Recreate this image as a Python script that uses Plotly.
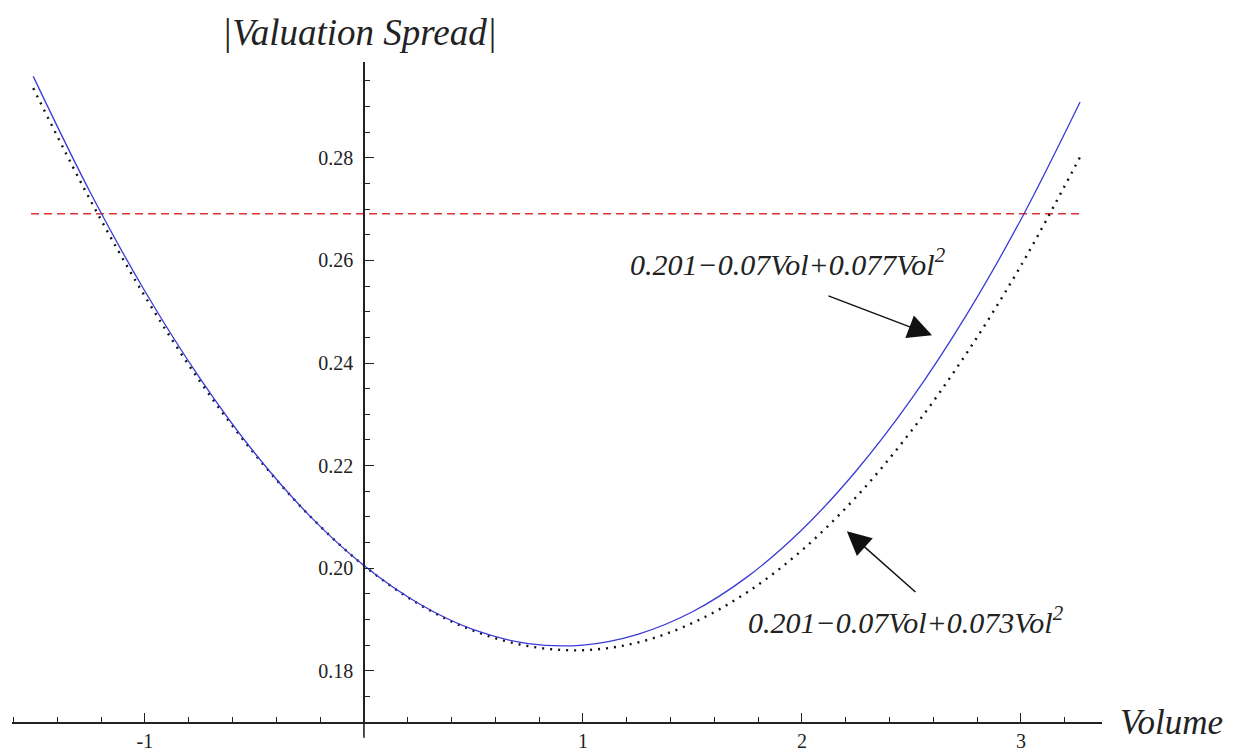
import plotly.graph_objects as go

# Volume values (x)
volume = [-1.51, -1.25, -1.0, -0.75, -0.5, -0.25, 0.0, 0.25, 0.5, 0.75, 1.0,
          1.25, 1.5, 1.75, 2.0, 2.25, 2.5, 2.75, 3.0, 3.27]
# |Valuation Spread| – solid blue curve
spread_blue = [0.2959, 0.2733, 0.2540, 0.2371, 0.2225, 0.2103, 0.2005, 0.1931,
               0.1880, 0.1853, 0.1850, 0.1871, 0.1915, 0.1983, 0.2075, 0.2191,
               0.2330, 0.2493, 0.2680, 0.2909]
# dotted black curve
spread_dot = [0.2936, 0.2718, 0.2530, 0.2365, 0.2223, 0.2103, 0.2005, 0.1930,
              0.1878, 0.1848, 0.1840, 0.1855, 0.1893, 0.1953, 0.2035, 0.2140,
              0.2268, 0.2418, 0.2590, 0.2802]
# red dashed threshold
threshold_x = [-1.52, 3.28]
threshold_y = [0.2691, 0.2691]

x_major = [-1, 1, 2, 3]
x_major_text = ["-1", "1", "2", "3"]
y_major = [0.18, 0.20, 0.22, 0.24, 0.26, 0.28]
y_major_text = ["0.18", "0.20", "0.22", "0.24", "0.26", "0.28"]

label_blue = "<i>0.201\u22120.07Vol+0.077Vol<sup>2</sup></i>"
label_dot = "<i>0.201\u22120.07Vol+0.073Vol<sup>2</sup></i>"

X_RANGE = [-1.607, 3.37]
Y_RANGE = [0.17, 0.2987]

fig = go.Figure()
fig.add_trace(go.Scatter(x=threshold_x, y=threshold_y, mode="lines",
                         line=dict(color="#DC3236", width=1.6, dash="8px,5px"),
                         hoverinfo="skip"))
fig.add_trace(go.Scatter(x=volume, y=spread_dot, mode="lines", line_shape="spline",
                         line=dict(color="#111111", width=2.4, dash="2px,6px"),
                         hoverinfo="skip"))
fig.add_trace(go.Scatter(x=volume, y=spread_blue, mode="lines", line_shape="spline",
                         line=dict(color="#3A3AD8", width=1.3),
                         hoverinfo="skip"))

serif = "Liberation Serif, Times New Roman, serif"
ypos = (0 - X_RANGE[0]) / (X_RANGE[1] - X_RANGE[0])

fig.update_layout(
    width=1247, height=753,
    margin=dict(l=4, r=153, t=54, b=39),
    plot_bgcolor="white", paper_bgcolor="white",
    showlegend=False,
    font=dict(family=serif, color="#222222"),
    xaxis=dict(range=X_RANGE, showgrid=False, zeroline=False, automargin=False,
               showline=True, linecolor="#222222", linewidth=1.6,
               tickmode="array", tickvals=x_major, ticktext=x_major_text,
               ticks="inside", ticklen=9, tickwidth=1.3, tickcolor="#222222",
               tickfont=dict(size=20, family=serif),
               minor=dict(tick0=0, dtick=0.2, ticks="inside", ticklen=5,
                          tickwidth=1.2, tickcolor="#222222"),
               fixedrange=True),
    yaxis=dict(range=Y_RANGE, showgrid=False, zeroline=False, automargin=False,
               anchor="free", position=ypos,
               showline=True, linecolor="#222222", linewidth=1.6,
               tickmode="array", tickvals=y_major, ticktext=y_major_text,
               ticks="inside", ticklen=9, tickwidth=1.3, tickcolor="#222222",
               tickfont=dict(size=20, family=serif), ticklabelstandoff=6,
               minor=dict(tick0=0, dtick=0.005, ticks="inside", ticklen=5,
                          tickwidth=1.2, tickcolor="#222222"),
               fixedrange=True),
)

# small extension of y-axis below the x-axis (Mathematica style crossing)
fig.add_shape(type="line", xref="x", yref="paper", x0=0, x1=0, y0=-0.024, y1=0,
              line=dict(color="#222222", width=1.6))

# axis labels
fig.add_annotation(xref="x", yref="paper", x=-0.02, y=1.044, yanchor="middle",
                   text="<i>|Valuation Spread|</i>", showarrow=False,
                   font=dict(size=37, family=serif, color="#222222"))
fig.add_annotation(xref="paper", yref="y", x=1.0, y=0.17, xanchor="left",
                   xshift=16, yanchor="middle",
                   text="<i>Volume</i>", showarrow=False,
                   font=dict(size=35, family=serif, color="#222222"))

# formula labels
fig.add_annotation(xref="x", yref="y", x=1.936, y=0.2597, text=label_blue,
                   showarrow=False, font=dict(size=30, family=serif, color="#222222"))
fig.add_annotation(xref="x", yref="y", x=2.475, y=0.1899, text=label_dot,
                   showarrow=False, font=dict(size=30, family=serif, color="#222222"))

# arrows
fig.add_annotation(xref="x", yref="y", axref="x", ayref="y",
                   x=2.594, y=0.2454, ax=2.114, ay=0.2532, text="",
                   showarrow=True, arrowhead=2, arrowsize=3.2, arrowwidth=1.5,
                   arrowcolor="#111111")
fig.add_annotation(xref="x", yref="y", axref="x", ayref="y",
                   x=2.205, y=0.2072, ax=2.525, ay=0.1951, text="",
                   showarrow=True, arrowhead=2, arrowsize=3.2, arrowwidth=1.5,
                   arrowcolor="#111111")

fig.write_html("out.html")
